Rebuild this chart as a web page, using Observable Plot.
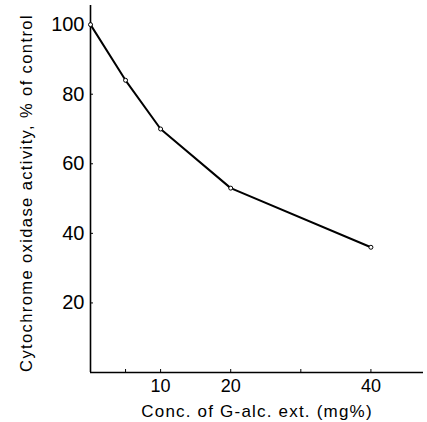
<!DOCTYPE html>
<html>
<head>
<meta charset="utf-8">
<script src="https://cdn.jsdelivr.net/npm/d3@7"></script>
<script src="https://cdn.jsdelivr.net/npm/@observablehq/plot@0.6"></script>
<style>
  html, body { margin: 0; padding: 0; background: #fff; }
  #chart svg { display: block; }
</style>
</head>
<body>
<div id="chart"></div>
<script>
const conc = [0, 5, 10, 20, 40];
const activity = [100, 84, 70, 53, 36];
const xTicks = [5, 10, 20, 30, 40];
const xTickLabels = [10, 20, 40];
const yTicks = [20, 40, 60, 80, 100];

const data = conc.map((c, i) => ({conc: c, activity: activity[i]}));

const font = "'Liberation Sans', 'DejaVu Sans', sans-serif";
const blank = () => "";

const chart = Plot.plot({
  width: 427,
  height: 422,
  marginLeft: 90,
  marginRight: 4,
  marginTop: 5,
  marginBottom: 50,
  style: {fontFamily: font, color: "#000", background: "#fff"},
  x: {domain: [0, 47.5]},
  y: {domain: [0, 105.5]},
  marks: [
    Plot.ruleX([0], {stroke: "#000", strokeWidth: 1.6}),
    Plot.ruleY([0], {stroke: "#000", strokeWidth: 1.6}),
    Plot.axisX({ticks: xTicks, tickFormat: blank, tickSize: -3, stroke: "#000", label: null}),
    Plot.axisX({ticks: xTickLabels, tickSize: 0, tickPadding: 7, fontSize: 18, fill: "#000",
      label: "Conc. of G-alc. ext. (mg%)", labelAnchor: "center", labelArrow: "none", labelOffset: 44}),
    Plot.axisY({ticks: yTicks, tickFormat: blank, tickSize: -3, stroke: "#000", label: null}),
    Plot.axisY({ticks: yTicks, tickSize: 0, tickPadding: 6, fontSize: 20, fill: "#000",
      label: "Cytochrome oxidase activity, % of control", labelAnchor: "center", labelArrow: "none", labelOffset: 70}),
    Plot.line(data, {x: "conc", y: "activity", stroke: "#000", strokeWidth: 2}),
    Plot.dot(data, {x: "conc", y: "activity", r: 2, stroke: "#000", strokeWidth: 1, fill: "#fff"})
  ]
});

d3.select(chart).selectAll("g[aria-label='x-axis label'] text")
  .attr("font-size", 17).attr("letter-spacing", "1.2px").attr("fill", "#000");
d3.select(chart).selectAll("g[aria-label='y-axis label'] text")
  .attr("font-size", 16.5).attr("letter-spacing", "1.4px").attr("fill", "#000")
  .attr("dx", "-4");

document.getElementById("chart").appendChild(chart);
</script>
</body>
</html>
